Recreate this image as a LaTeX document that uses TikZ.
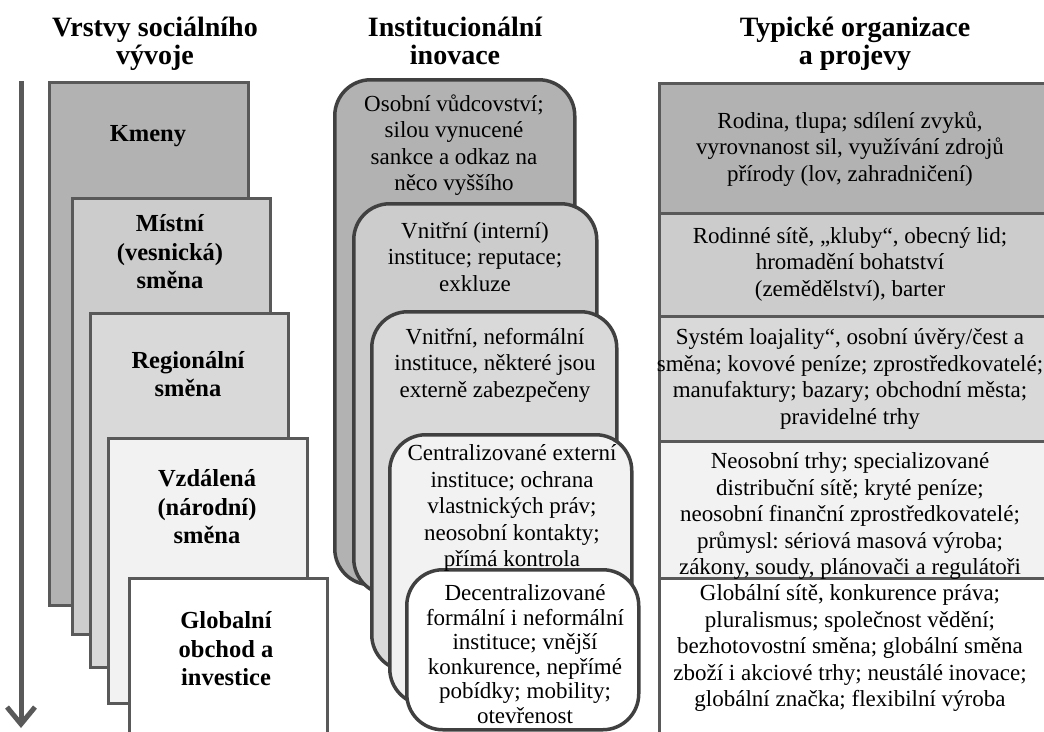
\documentclass[tikz,border=0pt]{standalone}
\usepackage{fontspec}
\setmainfont{Liberation Serif}
\frenchspacing
\usetikzlibrary{arrows.meta}
\definecolor{edgegray}{RGB}{89,89,89}
\definecolor{innoedge}{RGB}{64,64,64}
\definecolor{lay1}{RGB}{178,178,178}
\definecolor{lay2}{RGB}{204,204,204}
\definecolor{lay3}{RGB}{217,217,217}
\definecolor{lay4}{RGB}{242,242,242}
\begin{document}
\begin{tikzpicture}[x=1pt, y=-1pt,
layer/.style ={draw=edgegray, line width=3pt, rectangle, anchor=north west, inner sep=0pt},
inno/.style ={draw=innoedge, line width=3.5pt, rectangle, rounded corners=36pt, anchor=north west, inner sep=0pt},
head/.style ={font=\bfseries\fontsize{28}{28}\selectfont, align=center, anchor=north, inner sep=0pt},
lab/.style ={font=\bfseries\fontsize{24.5}{28.5}\selectfont, align=center},
txt/.style ={font=\fontsize{23}{26.5}\selectfont, align=center}]

\useasboundingbox (0,0) rectangle (1044,731);
\clip (0,0) rectangle (1044,731);

% headings
\node[head] (H1) at (155,17) {\strut Vrstvy sociálního\\vývoje};
\node[head] (H2) at (455,17) {\strut Institucionální\\inovace};
\node[head] (H3) at (855,17) {\strut Typické organizace\\a projevy};

% time arrow
\coordinate (atop) at (21,81);
\coordinate (abot) at (21,728);
\draw[edgegray, line width=5pt, -{Straight Barb[length=17pt,width=28pt]}] (atop) -- (abot);

% layers of development
\node[layer, fill=lay1, minimum width=199, minimum height=523] (L1) at (48,81) {};
\node[layer, fill=lay2, minimum width=198, minimum height=436] (L2) at (71,197) {};
\node[layer, fill=lay3, minimum width=198, minimum height=354] (L3) at (89,312) {};
\node[layer, fill=lay4, minimum width=199, minimum height=265] (L4) at (107,437) {};
\node[layer, fill=white, minimum width=198, minimum height=200] (L5) at (128,577) {};

\node[lab] (Kmeny) at (148,136) {Kmeny};
\node[lab] (Mistni) at (170,252) {Místní\\(vesnická)\\směna};
\node[lab] (Regio) at (188,374) {Regionální\\směna};
\node[lab] (Vzdal) at (207,507) {Vzdálená\\(národní)\\směna};
\node[lab] (Glob) at (226,649) {Globalní\\obchod a\\investice};

% institutional innovation
\node[inno, fill=lay1, minimum width=240, minimum height=505] (M1) at (333,78) {};
\node[inno, fill=lay2, minimum width=243, minimum height=391] (M2) at (352,202) {};
\node[inno, fill=lay3, minimum width=245, minimum height=359] (M3) at (370,310) {};
\node[inno, fill=lay4, minimum width=242, minimum height=270] (M4) at (388,433) {};
\node[inno, fill=white, minimum width=232, minimum height=160] (M5) at (405,568) {};

\node[txt] (M1t) at (454,145) {Osobní vůdcovství;\\silou vynucené\\sankce a odkaz na\\něco vyššího};
\node[txt] (M2t) at (475,257) {Vnitřní (interní)\\instituce; reputace;\\exkluze};
\node[txt] (M3t) at (495,365) {Vnitřní, neformální\\instituce, některé jsou\\externě zabezpečeny};
\node[txt] (M4t) at (512,508) {Centralizované externí\\instituce; ochrana\\vlastnických práv;\\neosobní kontakty;\\přímá kontrola};
\node[txt, font=\fontsize{23}{24.5}\selectfont] (M5t) at (525,654) {Decentralizované\\formální i neformální\\instituce; vnější\\konkurence, nepřímé\\pobídky; mobility;\\otevřenost};

% typical organizations
\node[layer, fill=lay1, minimum width=390, minimum height=130] (R1) at (658,82) {};
\node[layer, fill=lay2, minimum width=390, minimum height=103] (R2) at (658,212) {};
\node[layer, fill=lay3, minimum width=390, minimum height=125] (R3) at (658,315) {};
\node[layer, fill=lay4, minimum width=390, minimum height=137] (R4) at (658,440) {};
\node[layer, fill=white, minimum width=390, minimum height=200] (R5) at (658,577) {};

\node[txt] (R1t) at (850,149) {Rodina, tlupa; sdílení zvyků,\\vyrovnanost sil, využívání zdrojů\\přírody (lov, zahradničení)};
\node[txt] (R2t) at (850,264) {Rodinné sítě, „kluby“, obecný lid;\\hromadění bohatství\\(zemědělství), barter};
\node[txt] (R3t) at (850,379) {Systém loajality“, osobní úvěry/čest a\\směna; kovové peníze; zprostředkovatelé;\\manufaktury; bazary; obchodní města;\\pravidelné trhy};
\node[txt] (R4t) at (850,516) {Neosobní trhy; specializované\\distribuční sítě; kryté peníze;\\neosobní finanční zprostředkovatelé;\\průmysl: sériová masová výroba;\\zákony, soudy, plánovači a regulátoři};
\node[txt] (R5t) at (850,648) {Globální sítě, konkurence práva;\\pluralismus; společnost vědění;\\bezhotovostní směna; globální směna\\zboží i akciové trhy; neustálé inovace;\\globální značka; flexibilní výroba};

\end{tikzpicture}
\end{document}
